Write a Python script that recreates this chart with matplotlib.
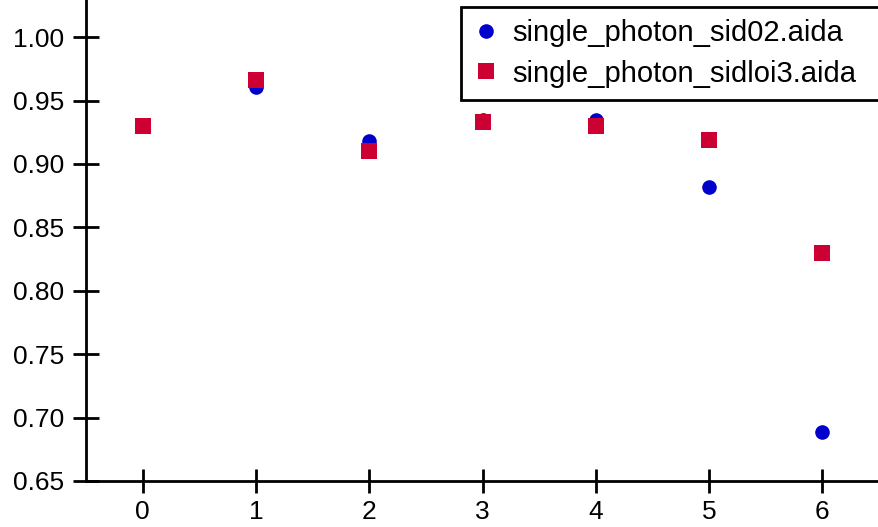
import matplotlib
matplotlib.use("Agg")
import matplotlib.pyplot as plt

plt.rcParams['font.family'] = ['Liberation Sans', 'DejaVu Sans']

x = [0, 1, 2, 3, 4, 5, 6]
sid02 = [0.930, 0.961, 0.918, 0.935, 0.935, 0.882, 0.689]
sidloi3 = [0.930, 0.966, 0.910, 0.933, 0.930, 0.919, 0.830]
labels = ["single_photon_sid02.aida", "single_photon_sidloi3.aida"]
yticks = [0.65, 0.70, 0.75, 0.80, 0.85, 0.90, 0.95, 1.00]

W, H = 879, 527
AX_L, AX_B = 86, 481
AX_W = W - AX_L + 4
fig = plt.figure(figsize=(W / 100, H / 100), dpi=100)
ax = fig.add_axes([AX_L / W, (H - AX_B) / H, AX_W / W, AX_B / H])

ax.plot(x, sid02, linestyle='none', marker='o', color='#0000cc', markersize=10.5,
        markeredgewidth=0, label=labels[0])
ax.plot(x, sidloi3, linestyle='none', marker='s', color='#cc0033', markersize=11,
        markeredgewidth=0, label=labels[1])

ax.set_xlim(-0.5, 6.5 + 4 / 113.3)
ax.set_ylim(0.65, 0.65 + AX_B / 1268)
ax.set_yticks(yticks)
ax.set_yticklabels([f"{v:.2f}" for v in yticks])
ax.set_xticks(x)

for s in ['top', 'right']:
    ax.spines[s].set_visible(False)
for s in ['left', 'bottom']:
    ax.spines[s].set_linewidth(2)
    ax.spines[s].set_color('black')

ax.tick_params(axis='y', direction='inout', length=19, width=2, labelsize=19,
               colors='black', pad=6)
ax.tick_params(axis='x', direction='inout', length=17, width=2, labelsize=19,
               colors='black', pad=5)

x0 = (461 - AX_L) / AX_W
w = (920 - 461) / AX_W
top = (AX_B - 7) / AX_B
leg = ax.legend(loc='upper left', bbox_to_anchor=(x0, 0, w, top), mode='expand',
                fontsize=21, frameon=True, fancybox=False, edgecolor='black',
                borderpad=0.42, handletextpad=0.45, labelspacing=0.42,
                handlelength=0.9, borderaxespad=0)
leg.get_frame().set_linewidth(2)
leg.get_frame().set_alpha(1)

fig.savefig("out.png", dpi=100)
